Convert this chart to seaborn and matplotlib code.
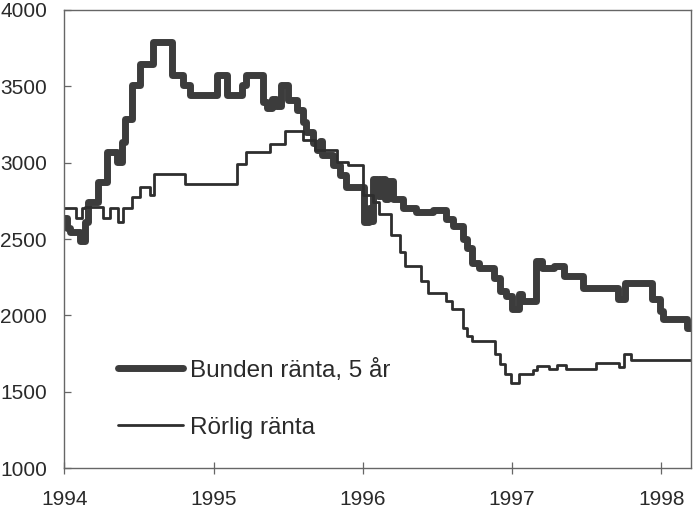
import numpy as np
import pandas as pd
import matplotlib
matplotlib.use("Agg")
import matplotlib.pyplot as plt
import seaborn as sns

# ---- data (decimal year, value), step series ----
bunden_t = [1994.00, 1994.015, 1994.04, 1994.104, 1994.138, 1994.16, 1994.227, 1994.283,
            1994.35, 1994.384, 1994.406, 1994.45, 1994.506, 1994.596, 1994.718, 1994.797,
            1994.84, 1995.02, 1995.087, 1995.19, 1995.22, 1995.33, 1995.36, 1995.39,
            1995.42, 1995.455, 1995.50, 1995.556, 1995.60, 1995.62, 1995.665, 1995.69,
            1995.71, 1995.73, 1995.80, 1995.846, 1995.89, 1996.005, 1996.01, 1996.04,
            1996.05, 1996.07, 1996.10, 1996.12, 1996.15, 1996.17, 1996.20, 1996.27,
            1996.36, 1996.47, 1996.56, 1996.604, 1996.672, 1996.70, 1996.735, 1996.78,
            1996.88, 1996.917, 1996.96, 1997.00, 1997.05, 1997.07, 1997.163, 1997.20,
            1997.285, 1997.35, 1997.475, 1997.708, 1997.76, 1997.94, 1997.99, 1998.01,
            1998.17, 1998.20]
bunden_v = [2636, 2570, 2549, 2484, 2614, 2745, 2876, 3072,
            3007, 3137, 3288, 3510, 3647, 3791, 3575, 3510,
            3444, 3575, 3444, 3510, 3575, 3400, 3360, 3420,
            3370, 3510, 3412, 3346, 3268, 3203, 3130, 3080,
            3140, 3052, 2987, 2921, 2843, 2780, 2614, 2700,
            2620, 2895, 2780, 2895, 2760, 2880, 2765, 2700,
            2680, 2693, 2634, 2582, 2503, 2438, 2340, 2307,
            2242, 2157, 2124, 2039, 2137, 2091, 2353, 2307,
            2320, 2255, 2176, 2104, 2209, 2104, 2026, 1974,
            1915, 1915]

rorlig_t = [1994.00, 1994.08, 1994.12, 1994.14, 1994.26, 1994.305, 1994.36, 1994.39,
            1994.45, 1994.506, 1994.573, 1994.60, 1994.808, 1995.154, 1995.22, 1995.377,
            1995.477, 1995.60, 1995.68, 1995.83, 1995.90, 1996.00, 1996.07, 1996.11,
            1996.19, 1996.248, 1996.28, 1996.39, 1996.44, 1996.56, 1996.60, 1996.67,
            1996.70, 1996.73, 1996.884, 1996.92, 1996.95, 1996.996, 1997.05, 1997.14,
            1997.17, 1997.25, 1997.30, 1997.365, 1997.565, 1997.72, 1997.75, 1997.80,
            1998.20]
rorlig_v = [2701, 2636, 2701, 2710, 2636, 2701, 2610, 2701,
            2778, 2843, 2789, 2924, 2858, 2994, 3072, 3124,
            3209, 3150, 3080, 3007, 2987, 2791, 2745, 2667,
            2529, 2418, 2320, 2222, 2144, 2091, 2039, 1915,
            1863, 1830, 1745, 1680, 1614, 1556, 1614, 1640,
            1667, 1647, 1673, 1647, 1686, 1660, 1745, 1706,
            1706]

labels = ["Bunden ränta, 5 år", "Rörlig ränta"]
x_ticks = [1994, 1995, 1996, 1997, 1998]
y_ticks = [1000, 1500, 2000, 2500, 3000, 3500, 4000]

sns.set_style("ticks")
plt.rcParams['font.family'] = ['Liberation Sans', 'DejaVu Sans']

fig = plt.figure(figsize=(6.96, 5.11), dpi=100)
ax = fig.add_axes([64.4 / 696, 43 / 511, (691 - 64.4) / 696, (468 - 10) / 511])

df_b = pd.DataFrame({"t": bunden_t, "v": bunden_v})
df_r = pd.DataFrame({"t": rorlig_t, "v": rorlig_v})

sns.lineplot(data=df_b, x="t", y="v", ax=ax, estimator=None, sort=False,
             drawstyle="steps-post", color="#3c3c3c", linewidth=5.0,
             label=labels[0])
sns.lineplot(data=df_r, x="t", y="v", ax=ax, estimator=None, sort=False,
             drawstyle="steps-post", color="#2e2e2e", linewidth=2.0,
             label=labels[1])

ax.set_xlim(1994, 1998.2)
ax.set_ylim(1000, 4000)
ax.set_xticks(x_ticks)
ax.set_xticklabels([str(v) for v in x_ticks])
ax.set_yticks(y_ticks)
ax.set_yticklabels([str(v) for v in y_ticks])
ax.set_xlabel("")
ax.set_ylabel("")

for s in ax.spines.values():
    s.set_visible(True)
    s.set_color("#666666")
    s.set_linewidth(1.0)

ax.tick_params(axis="x", direction="inout", length=9, width=0.9, color="#666666",
               labelsize=15, pad=11, labelcolor="#2a2a2a")
ax.tick_params(axis="y", direction="in", length=5, width=0.9, color="#666666",
               labelsize=15, pad=12.5, labelcolor="#2a2a2a")

leg = ax.legend(loc="upper left", bbox_to_anchor=(118 / 696, 1 - 359 / 511),
                bbox_transform=fig.transFigure, frameon=False, fontsize=17.5,
                handlelength=2.67, handletextpad=0.29, labelspacing=1.43,
                borderpad=0, borderaxespad=0)
for t in leg.get_texts():
    t.set_color("#2a2a2a")

fig.savefig("out.png", dpi=100)
